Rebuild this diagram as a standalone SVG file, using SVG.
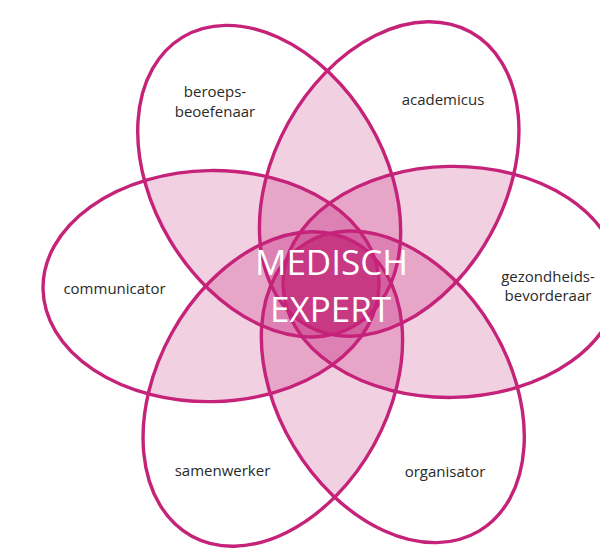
<svg xmlns="http://www.w3.org/2000/svg" width="600" height="552" viewBox="0 0 600 552">
<defs>
<style>
.outline{fill:none;stroke:#c52279;stroke-width:3.4}
.lbl{font-family:"Open Sans","Liberation Sans",sans-serif;font-size:15px;fill:#2a2a2a;text-anchor:middle}
.core{font-family:"Open Sans","Liberation Sans",sans-serif;font-weight:400;font-size:35px;fill:#ffffff;text-anchor:middle}
.cov{fill:#000;fill-opacity:0.28}
</style>
<ellipse id="e0" cx="451" cy="284" rx="168" ry="115.5" transform="rotate(-1 331 284)"/>
<ellipse id="e60" cx="451" cy="284" rx="168" ry="115.5" transform="rotate(59 331 284)"/>
<ellipse id="e120" cx="451" cy="284" rx="168" ry="115.5" transform="rotate(119 331 284)"/>
<ellipse id="e180" cx="451" cy="284" rx="168" ry="115.5" transform="rotate(179 331 284)"/>
<ellipse id="e240" cx="451" cy="284" rx="168" ry="115.5" transform="rotate(239 331 284)"/>
<ellipse id="e300" cx="451" cy="284" rx="168" ry="115.5" transform="rotate(299 331 284)"/>
<filter id="overlap" filterUnits="userSpaceOnUse" x="0" y="0" width="600" height="552" color-interpolation-filters="sRGB">
<feColorMatrix type="matrix" values="0 0 0 1 0  0 0 0 1 0  0 0 0 1 0  0 0 0 0 1"/>
<feComponentTransfer>
<feFuncR type="discrete" tableValues="1 1 1 1 1 1 1 1 1 1 1 1 1 1 1 .949 .949 .949 .949 .949 .949 .949 .906 .906 .906 .906 .906 .867 .867 .867 .867 .831 .831 .788 .788 .788 .788 .788 .788 .788"/>
<feFuncG type="discrete" tableValues="1 1 1 1 1 1 1 1 1 1 1 1 1 1 1 .82 .82 .82 .82 .82 .82 .82 .651 .651 .651 .651 .651 .502 .502 .502 .502 .384 .384 .227 .227 .227 .227 .227 .227 .227"/>
<feFuncB type="discrete" tableValues="1 1 1 1 1 1 1 1 1 1 1 1 1 1 1 .886 .886 .886 .886 .886 .886 .886 .788 .788 .788 .788 .788 .702 .702 .702 .702 .624 .624 .518 .518 .518 .518 .518 .518 .518"/>
</feComponentTransfer>
</filter>
</defs>
<g id="overlaps" filter="url(#overlap)">
<use href="#e0" class="cov"/>
<use href="#e60" class="cov"/>
<use href="#e120" class="cov"/>
<use href="#e180" class="cov"/>
<use href="#e240" class="cov"/>
<use href="#e300" class="cov"/>
</g>
<g id="node-beroepsbeoefenaar">
<use href="#e240" class="outline"/>
<text class="lbl" x="215" y="97">beroeps-</text>
<text class="lbl" x="215" y="117">beoefenaar</text>
</g>
<g id="node-academicus">
<use href="#e300" class="outline"/>
<text class="lbl" x="443" y="105">academicus</text>
</g>
<g id="node-communicator">
<use href="#e180" class="outline"/>
<text class="lbl" x="114.5" y="294">communicator</text>
</g>
<g id="node-gezondheidsbevorderaar">
<use href="#e0" class="outline"/>
<text class="lbl" x="548" y="282">gezondheids-</text>
<text class="lbl" x="548" y="301">bevorderaar</text>
</g>
<g id="node-samenwerker">
<use href="#e120" class="outline"/>
<text class="lbl" x="222.5" y="476">samenwerker</text>
</g>
<g id="node-organisator">
<use href="#e60" class="outline"/>
<text class="lbl" x="445" y="477">organisator</text>
</g>
<g id="node-medisch-expert">
<text class="core" x="331.5" y="275">MEDISCH</text>
<text class="core" x="330.5" y="322">EXPERT</text>
</g>
</svg>
